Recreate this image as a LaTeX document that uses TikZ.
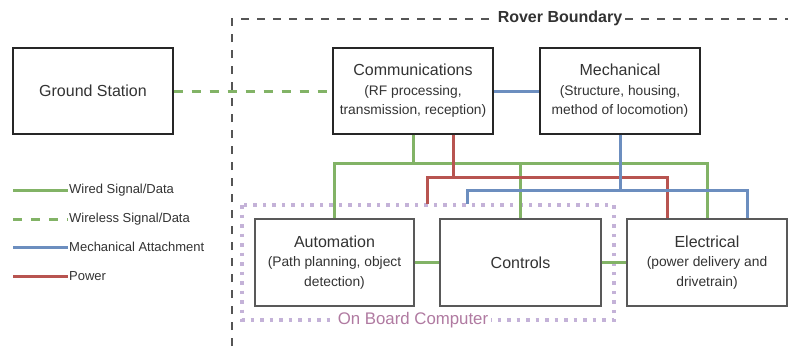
\documentclass[tikz,border=0pt]{standalone}
\usepackage{fontspec}
\setmainfont{Liberation Sans}
\definecolor{wgreen}{HTML}{82B366}
\definecolor{wblue}{HTML}{6C8EBF}
\definecolor{wred}{HTML}{B85450}
\definecolor{obcdot}{HTML}{C4B2D8}
\definecolor{obctxt}{HTML}{B07AA1}
\definecolor{txt}{HTML}{333333}
\definecolor{rovergray}{HTML}{555555}
\newcommand{\mainf}{\fontsize{16}{19.5}\selectfont}
\newcommand{\subf}{\fontsize{13.8}{19.5}\selectfont}
\tikzset{
  topbox/.style={draw=black!85, line width=1.3pt, minimum width=160pt, minimum height=86pt, inner sep=0pt, align=center, text=txt, font=\subf},
  botbox/.style={draw=black!65, line width=1.3pt, minimum height=87pt, inner sep=0pt, align=center, text=txt, font=\subf},
  wired/.style={draw=wgreen, line width=3pt},
  wireless/.style={draw=wgreen, line width=3pt, dash pattern=on 9pt off 9pt},
  mech/.style={draw=wblue, line width=3pt},
  power/.style={draw=wred, line width=3pt},
  rover/.style={draw=rovergray, line width=2.5pt, dash pattern=on 8pt off 8pt},
  obc/.style={draw=obcdot, line width=3.5pt, dash pattern=on 3.5pt off 6pt},
  legtext/.style={anchor=west, inner sep=1pt, text=txt, font=\fontsize{13}{15}\selectfont},
}
\begin{document}
\begin{tikzpicture}[x=1pt,y=-1pt]
\useasboundingbox (0,0) rectangle (788,346);
\fill[white] (0,0) rectangle (788,346);

% boundaries
\draw[rover] (232,346) -- (232,19) -- (788,19);
\node[fill=white, inner sep=3pt, text=txt, font=\fontsize{16}{19}\selectfont\bfseries] (roverlbl) at (560,18) {Rover Boundary};
\draw[obc] (242,205) rectangle (614,320);
\node[fill=white, inner sep=3pt, text=obctxt, font=\fontsize{16.8}{19}\selectfont] (obclbl) at (413,320) {On Board Computer};

% boxes
\node[topbox, font=\mainf] (gs) at (93,91) {Ground Station};
\node[topbox] (comm) at (413,91) {{\mainf Communications}\\(RF processing,\\transmission, reception)};
\node[topbox] (mechb) at (620,91) {{\mainf Mechanical}\\(Structure, housing,\\method of locomotion)};
\node[botbox, minimum width=159pt] (auto) at (334.5,262.5) {{\mainf Automation}\\(Path planning, object\\detection)};
\node[botbox, minimum width=161pt, font=\mainf] (ctrl) at (520.5,262.5) {Controls};
\node[botbox, minimum width=160pt] (elec) at (707,262.5) {{\mainf Electrical}\\(power delivery and\\drivetrain)};

% bus coordinates
\coordinate (gbus) at (0,163);
\coordinate (rbus) at (0,177);
\coordinate (bbus) at (0,190);
\coordinate (rend) at (427,204);
\coordinate (bend) at (467,204);

% wired
\draw[wired] (auto.north) -- (auto.north |- gbus) -- (elec.north |- gbus) -- (elec.north);
\draw[wired] (comm.south) -- (comm.south |- gbus);
\draw[wired] (ctrl.north) -- (ctrl.north |- gbus);
\draw[wired] (auto.east) -- (ctrl.west);
\draw[wired] (ctrl.east) -- (elec.west);

% power
\draw[power] (comm.south -| 453,0) -- (453,0 |- rbus);
\draw[power] (rend) -- (rend |- rbus) -- (667,0 |- rbus) -- (elec.north -| 667,0);

% mechanical
\draw[mech] (comm.east) -- (mechb.west);
\draw[mech] (mechb.south) -- (mechb.south |- bbus);
\draw[mech] (bend) -- (bend |- bbus) -- (747,0 |- bbus) -- (elec.north -| 747,0);

% wireless
\draw[wireless] (gs.east) -- (comm.west);

% legend
\coordinate (l1a) at (13,190); \coordinate (l1b) at (68,190);
\coordinate (l2a) at (13,219); \coordinate (l2b) at (68,219);
\coordinate (l3a) at (13,247); \coordinate (l3b) at (68,247);
\coordinate (l4a) at (13,276); \coordinate (l4b) at (68,276);
\draw[wired] (l1a) -- (l1b);
\draw[wireless] (l2a) -- (l2b);
\draw[mech] (l3a) -- (l3b);
\draw[power] (l4a) -- (l4b);
\node[legtext] (t1) at (l1b) {Wired Signal/Data};
\node[legtext] (t2) at (l2b) {Wireless Signal/Data};
\node[legtext] (t3) at (l3b) {Mechanical Attachment};
\node[legtext] (t4) at (l4b) {Power};
\end{tikzpicture}
\end{document}
